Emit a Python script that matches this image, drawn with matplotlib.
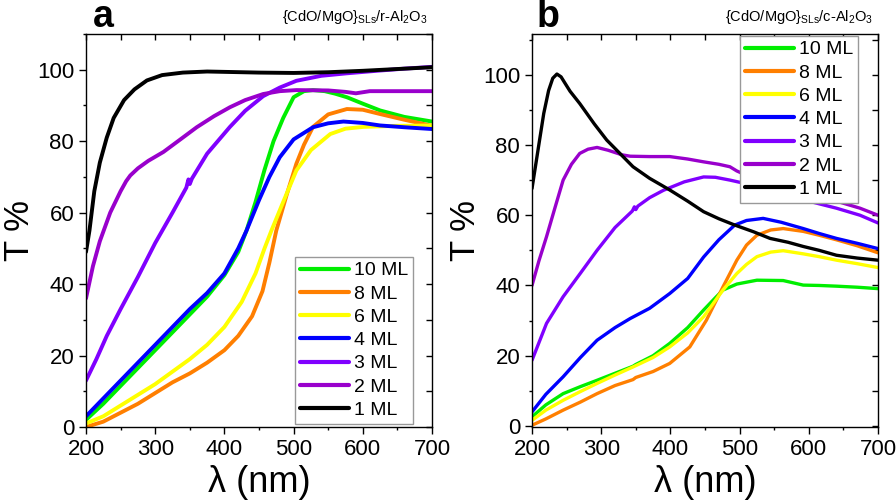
import matplotlib
matplotlib.use("Agg")
import matplotlib.pyplot as plt
from matplotlib.ticker import MultipleLocator

plt.rcParams['font.family'] = ['Liberation Sans', 'DejaVu Sans']
plt.rcParams['mathtext.default'] = 'regular'

labels = ["10 ML", "8 ML", "6 ML", "4 ML", "3 ML", "2 ML", "1 ML"]
colors = ["#00ee00", "#ff7f00", "#ffff00", "#0000ff", "#8000ff", "#9900cc", "#000000"]

# ---------------- panel a: {CdO/MgO}SLs / r-Al2O3 ----------------
a_10_x = [200, 225, 250, 275, 300, 325, 350, 375, 400, 420, 432, 445, 458, 471, 485, 500, 515, 528, 545, 560, 577, 600, 625, 660, 700]
a_10_y = [2, 6.5, 11.5, 16.5, 21.5, 26.5, 31.5, 36.5, 42.5, 49, 55, 63, 72, 80, 86.5, 92.3, 94, 94.3, 94, 93.3, 92.3, 90.5, 88.6, 86.8, 85.5]
a_8_x = [200, 225, 250, 275, 300, 325, 350, 375, 400, 420, 440, 455, 465, 475, 490, 504, 515, 528, 550, 577, 600, 625, 660, 700]
a_8_y = [0, 1.5, 4, 6.5, 9.5, 12.5, 15, 18, 21.5, 25.5, 31, 38, 46, 55, 65, 73.7, 79, 84, 87.5, 89, 88.8, 87.6, 86, 84.3]
a_6_x = [200, 225, 250, 275, 300, 325, 350, 375, 400, 425, 445, 458, 468, 485, 504, 525, 553, 575, 601, 650, 700]
a_6_y = [1, 3, 6, 9, 12, 15.5, 19, 23, 28, 35, 43, 50, 55, 63, 71.8, 77.5, 82, 83.5, 84, 84.3, 84.4]
a_4_x = [200, 225, 250, 275, 300, 325, 350, 375, 400, 420, 432, 450, 465, 480, 500, 528, 550, 572, 600, 625, 660, 700]
a_4_y = [3, 8, 13, 18, 23, 28, 33, 37.5, 43, 50, 55, 63.5, 70, 75.5, 80.5, 83.9, 85, 85.5, 85.1, 84.4, 83.9, 83.4]
a_3_x = [200, 215, 230, 250, 275, 300, 325, 345, 348, 350, 353, 375, 408, 430, 456, 480, 504, 540, 577, 620, 660, 700]
a_3_y = [13, 19, 25.5, 33, 42, 51.5, 60, 67, 69.3, 68, 69.5, 76.5, 84, 88.5, 92.6, 95, 96.9, 98.3, 99, 99.7, 100.3, 100.8]
a_2_x = [200, 210, 220, 235, 250, 258, 264, 275, 290, 312, 335, 360, 385, 408, 430, 456, 480, 504, 550, 575, 590, 610, 650, 700]
a_2_y = [36, 45, 52, 60, 66, 68.8, 70.4, 72.4, 74.5, 77, 80.3, 83.9, 87, 89.5, 91.5, 93.2, 94, 94.3, 94.2, 93.8, 93.4, 94, 94, 94]
a_1_x = [200, 205, 212, 220, 230, 240, 255, 270, 288, 310, 340, 375, 400, 450, 500, 550, 600, 650, 700]
a_1_y = [49, 55, 66, 74, 81, 86.5, 91.5, 94.5, 97, 98.5, 99.2, 99.5, 99.4, 99.2, 99.1, 99.3, 99.7, 100.2, 100.7]

# ---------------- panel b: {CdO/MgO}SLs / c-Al2O3 ----------------
b_10_x = [200, 220, 245, 270, 294, 320, 346, 350, 375, 399, 425, 448, 465, 476, 496, 525, 563, 592, 615, 640, 670, 700]
b_10_y = [2.6, 6, 9.2, 11.2, 13, 15, 17, 17.5, 20, 23.5, 28, 33, 36.5, 38.7, 40.4, 41.5, 41.4, 40.1, 40, 39.8, 39.5, 39.1]
b_8_x = [200, 220, 245, 270, 294, 320, 346, 350, 375, 399, 428, 452, 476, 496, 510, 525, 545, 563, 592, 615, 640, 670, 700]
b_8_y = [0.2, 2, 4.5, 6.8, 9.2, 11.5, 13.2, 13.8, 15.5, 17.8, 22.5, 30.1, 39.6, 47.2, 51.5, 54.3, 55.8, 56.2, 55.4, 54.3, 53, 51.3, 49.3]
b_6_x = [200, 220, 245, 270, 294, 320, 346, 375, 399, 425, 448, 476, 496, 510, 525, 545, 563, 592, 615, 640, 670, 700]
b_6_y = [1.6, 4.5, 7.3, 9.8, 12.1, 14.5, 16.8, 19.5, 22.5, 26.5, 31.1, 38.7, 43.4, 46, 48.2, 49.5, 49.9, 49, 48.2, 47.2, 46.2, 45.1]
b_4_x = [200, 220, 245, 270, 294, 320, 342, 370, 399, 425, 448, 470, 493, 510, 534, 560, 592, 615, 640, 670, 700]
b_4_y = [4, 9, 14, 19.5, 24.4, 28, 30.6, 33.5, 37.7, 42, 48.1, 53, 57.2, 58.5, 59.1, 58, 56.2, 54.8, 53.4, 52, 50.5]
b_3_x = [200, 221, 245, 270, 294, 320, 345, 348, 350, 353, 370, 390, 420, 448, 465, 486, 520, 560, 600, 640, 674, 700]
b_3_y = [18.7, 29.2, 36.8, 43.5, 50, 56.5, 61.2, 62.4, 61.6, 62.6, 65, 67.1, 69.5, 70.9, 70.8, 70, 68.5, 66, 64, 62, 60, 57.8]
b_2_x = [200, 210, 221, 233, 245, 257, 269, 281, 294, 310, 330, 342, 370, 399, 425, 448, 470, 486, 496, 520, 560, 600, 640, 674, 700]
b_2_y = [40, 47, 53.9, 62, 70, 74.5, 77.6, 78.8, 79.3, 78.5, 77.2, 76.8, 76.7, 76.7, 76, 75.2, 74.5, 73.8, 72.6, 70.5, 68, 66, 64, 62, 60]
b_1_x = [200, 208, 217, 224, 230, 236, 242, 248, 255, 269, 290, 308, 330, 346, 370, 399, 425, 448, 470, 493, 520, 544, 570, 592, 615, 640, 670, 700]
b_1_y = [67.6, 77.7, 89, 95.5, 99, 100.2, 99.4, 97.5, 95.3, 91.8, 86, 81.4, 77, 73.8, 70.5, 67.2, 64, 61, 59, 57.2, 55.3, 53.4, 52.3, 51.1, 50, 48.6, 47.8, 47.2]

panel_a = [(a_10_x, a_10_y), (a_8_x, a_8_y), (a_6_x, a_6_y), (a_4_x, a_4_y),
           (a_3_x, a_3_y), (a_2_x, a_2_y), (a_1_x, a_1_y)]
panel_b = [(b_10_x, b_10_y), (b_8_x, b_8_y), (b_6_x, b_6_y), (b_4_x, b_4_y),
           (b_3_x, b_3_y), (b_2_x, b_2_y), (b_1_x, b_1_y)]

fig = plt.figure(figsize=(8.96, 5.03), dpi=100)
ax_a = fig.add_axes([86/896, 1-427/503, 346/896, 393/503])
ax_b = fig.add_axes([532/896, 1-427/503, 346/896, 393/503])


def style(ax, ylim):
    ax.set_xlim(200, 700)
    ax.set_ylim(*ylim)
    ax.xaxis.set_major_locator(MultipleLocator(100))
    ax.xaxis.set_minor_locator(MultipleLocator(50))
    ax.yaxis.set_major_locator(MultipleLocator(20))
    ax.yaxis.set_minor_locator(MultipleLocator(10))
    for s in ax.spines.values():
        s.set_linewidth(1.0)
    ax.tick_params(which='both', direction='out', top=False, right=False, labelsize=16, width=1.0)
    ax.tick_params(which='major', length=5)
    ax.tick_params(which='minor', length=2.5)
    ax.set_xlabel('λ (nm)', fontsize=26, labelpad=4)
    ax.set_ylabel('T %', fontsize=25, labelpad=1)
    sec = ax.secondary_xaxis('top')
    sec.xaxis.set_major_locator(MultipleLocator(50))
    sec.tick_params(direction='in', length=4, width=1.0, labeltop=False)
    sec.spines['top'].set_visible(False)
    secy = ax.secondary_yaxis('right')
    secy.yaxis.set_major_locator(MultipleLocator(10))
    secy.tick_params(direction='in', length=4, width=1.0, labelright=False)
    secy.spines['right'].set_visible(False)


for ax, data, lw in [(ax_a, panel_a, 2.8), (ax_b, panel_b, 2.4)]:
    for (x, y), lab, c in zip(data, labels, colors):
        ax.plot(x, y, color=c, lw=lw, label=lab, solid_capstyle='round', solid_joinstyle='round')

style(ax_a, (0, 110))
style(ax_b, (-0.3, 111.6))

leg_kw = dict(fontsize=14, handlelength=2.5, handletextpad=0.25, labelspacing=0.29,
              borderpad=0.25, borderaxespad=0, fancybox=False, framealpha=1)
la = ax_a.legend(loc='lower right', bbox_to_anchor=(0.944, 0.008), **leg_kw)
lb = ax_b.legend(loc='upper right', bbox_to_anchor=(0.942, 0.995), **leg_kw)
for lg in (la, lb):
    lg.get_frame().set_edgecolor('#999999')
    lg.get_frame().set_linewidth(1.0)
    for h in lg.get_lines():
        h.set_linewidth(3)

fig.text(93/896, 1-27/503, 'a', fontsize=27, fontweight='bold', ha='left', va='baseline')
fig.text(537/896, 1-27/503, 'b', fontsize=27, fontweight='bold', ha='left', va='baseline')
fig.text(428/896, 1-21/503, '{CdO/MgO}$_{SLs}$/r-Al$_{2}$O$_{3}$', fontsize=10.5, ha='right', va='baseline')
fig.text(873/896, 1-21/503, '{CdO/MgO}$_{SLs}$/c-Al$_{2}$O$_{3}$', fontsize=10.5, ha='right', va='baseline')

fig.savefig('out.png', dpi=100)
